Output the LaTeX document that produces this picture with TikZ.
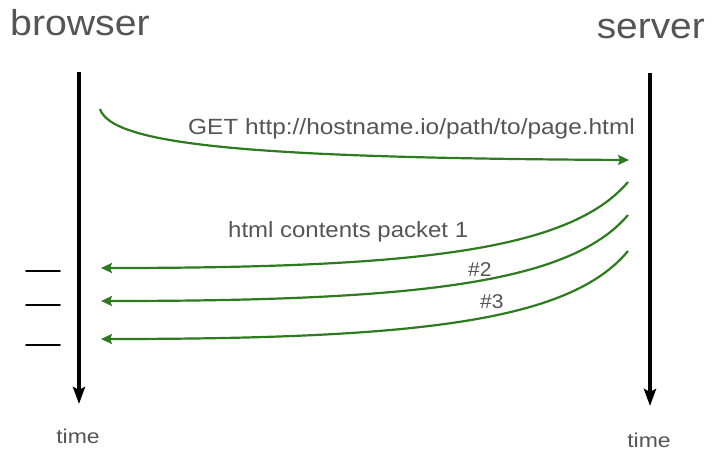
\documentclass[tikz,border=0pt]{standalone}
\usepackage{fontspec}
\setmainfont{Liberation Sans}
\usetikzlibrary{arrows.meta}
\definecolor{msggreen}{HTML}{2E7A1E}
\definecolor{txtgray}{HTML}{555555}
\begin{document}
\begin{tikzpicture}[x=1pt,y=-1pt,
  lifeline/.style={line width=3.5pt,-{Stealth[length=17pt,width=12pt,inset=3pt]}},
  msg/.style={draw=msggreen,line width=2.2pt,-{Stealth[length=11pt,width=10pt,inset=2pt]}},
  tickmark/.style={line width=1.6pt,line cap=round},
  title/.style={text=txtgray,inner sep=0pt,font=\fontsize{36}{40}\selectfont},
  lbl/.style={text=txtgray,inner sep=0pt,font=\fontsize{22}{26}\selectfont},
  timelbl/.style={text=txtgray,inner sep=0pt,font=\fontsize{20}{24}\selectfont}]
\useasboundingbox (0,0) rectangle (712,451);
\fill[white] (0,0) rectangle (712,451);
% titles
\node[title,anchor=base west] (browser) at (10,35) {\scalebox{1.09}[1]{browser}};
\node[title,anchor=base east] (server) at (705,38) {\scalebox{1.08}[1]{server}};
% lifelines
\coordinate (btop) at (79,72);
\coordinate (bbot) at (79,404);
\coordinate (stop) at (650,73);
\coordinate (sbot) at (650,406);
\draw[lifeline] (btop) -- (bbot);
\draw[lifeline] (stop) -- (sbot);
\node[timelbl,anchor=base] (tl) at (78,443) {\scalebox{1.15}[1]{time}};
\node[timelbl,anchor=base] (tr) at (649,447) {\scalebox{1.15}[1]{time}};
% request
\coordinate (g0) at (100,109);
\coordinate (g1) at (629,160);
\draw[msg] (g0) .. controls (112,145) and (250,158) .. (g1);
\node[lbl,anchor=base west] (get) at (188,134) {\scalebox{1.11}[1]{GET http://hostname.io/path/to/page.html}};
% responses
\coordinate (r1s) at (628,182);
\coordinate (r1e) at (101,268);
\coordinate (r2s) at (628,215);
\coordinate (r2e) at (101,301);
\coordinate (r3s) at (628,251);
\coordinate (r3e) at (101,339);
\draw[msg] (r1s) .. controls (570,250) and (420,268) .. (r1e);
\draw[msg] (r2s) .. controls (570,283) and (420,301) .. (r2e);
\draw[msg] (r3s) .. controls (570,321) and (420,339) .. (r3e);
\node[lbl,anchor=base west] (p1) at (228,237) {\scalebox{1.09}[1]{html contents packet 1}};
\node[lbl,anchor=base west,font=\fontsize{20}{24}\selectfont] (p2) at (468,276) {\scalebox{1.05}[1]{\#2}};
\node[lbl,anchor=base west,font=\fontsize{20}{24}\selectfont] (p3) at (480,308) {\scalebox{1.05}[1]{\#3}};
% tick marks
\coordinate (t1a) at (26,271); \coordinate (t1b) at (60,271);
\coordinate (t2a) at (26,305); \coordinate (t2b) at (60,305);
\coordinate (t3a) at (26,345); \coordinate (t3b) at (60,345);
\draw[tickmark] (t1a) -- (t1b);
\draw[tickmark] (t2a) -- (t2b);
\draw[tickmark] (t3a) -- (t3b);
\end{tikzpicture}
\end{document}
